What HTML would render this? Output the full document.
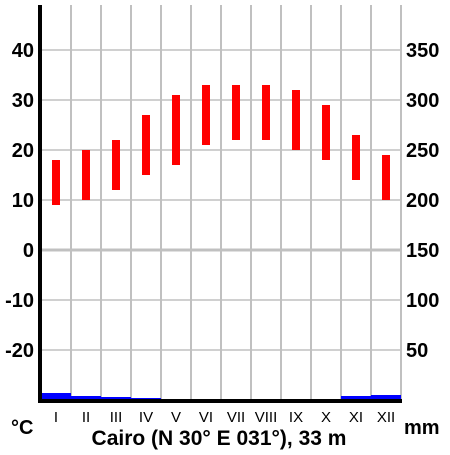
<!DOCTYPE html>
<html><head><meta charset="utf-8"><style>
body{margin:0;background:#fff}
svg text{font-family:"Liberation Sans",Arial,sans-serif}
</style></head><body>
<svg id="chart" width="450" height="450" viewBox="0 0 450 450">
<g id="grid"></g>
<g id="precip"></g>
<g id="temp"></g>
<g id="axes"></g>
<g id="labels"></g>
</svg>
<script>
const months=["I","II","III","IV","V","VI","VII","VIII","IX","X","XI","XII"];
const tempMax=[18,20,22,27,31,33,33,33,32,29,23,19];
const tempMin=[9,10,12,15,17,21,22,22,20,18,14,10];
const precip=[7,4,3,2,1,0,0,0,0,1,4,5];
const tempTicks=[40,30,20,10,0,-10,-20];
const precipTicks=[350,300,250,200,150,100,50];
const NS="http://www.w3.org/2000/svg";
const L=40,R=401,colW=30;
const yT=t=>250-5*t;
const yP=p=>400-p;
const xC=i=>41+colW*i;
function mk(tag,attrs,parent,text){const e=document.createElementNS(NS,tag);for(const k in attrs)e.setAttribute(k,attrs[k]);if(text!==undefined)e.textContent=text;document.getElementById(parent).appendChild(e);return e;}
for(let i=1;i<=12;i++){const e=mk('line',{x1:xC(i),x2:xC(i),y1:5,y2:400,stroke:'#c0c0c0','stroke-width':2},'grid');

}
tempTicks.forEach(t=>{const e=mk('line',{x1:L,x2:R,y1:yT(t),y2:yT(t),stroke:'#c0c0c0','stroke-width':t===0?3:1.5},'grid');

});
precip.forEach((p,i)=>{const e=mk('rect',{x:xC(i),y:yP(p),width:colW,height:Math.max(0,400-yP(p)),fill:'#0000ff'},'precip');

});
tempMax.forEach((t,i)=>{const e=mk('rect',{x:xC(i)+11,y:yT(t),width:8,height:yT(tempMin[i])-yT(t),fill:'#ff0000'},'temp');

});
let a=mk('rect',{x:38,y:5,width:4,height:398,fill:'#000'},'axes');


a=mk('rect',{x:38,y:399,width:364,height:4,fill:'#000'},'axes');


tempTicks.forEach(t=>{const e=mk('text',{x:34,y:yT(t)+7,'text-anchor':'end','font-size':20,'font-weight':'bold'},'labels',String(t));

});
precipTicks.forEach(p=>{const e=mk('text',{x:406,y:yP(p)+7,'font-size':20,'font-weight':'bold'},'labels',String(p));

});
months.forEach((m,i)=>{const e=mk('text',{x:xC(i)+15,y:422,'text-anchor':'middle','font-size':15},'labels',m);

});
let t=mk('text',{x:11,y:434,'font-size':20,'font-weight':'bold'},'labels','°C');


t=mk('text',{x:404,y:434,'font-size':20,'font-weight':'bold'},'labels','mm');


t=mk('text',{x:219,y:445,'text-anchor':'middle','font-size':21,'font-weight':'bold'},'labels','Cairo (N 30° E 031°), 33 m');


</script>
</body></html>
